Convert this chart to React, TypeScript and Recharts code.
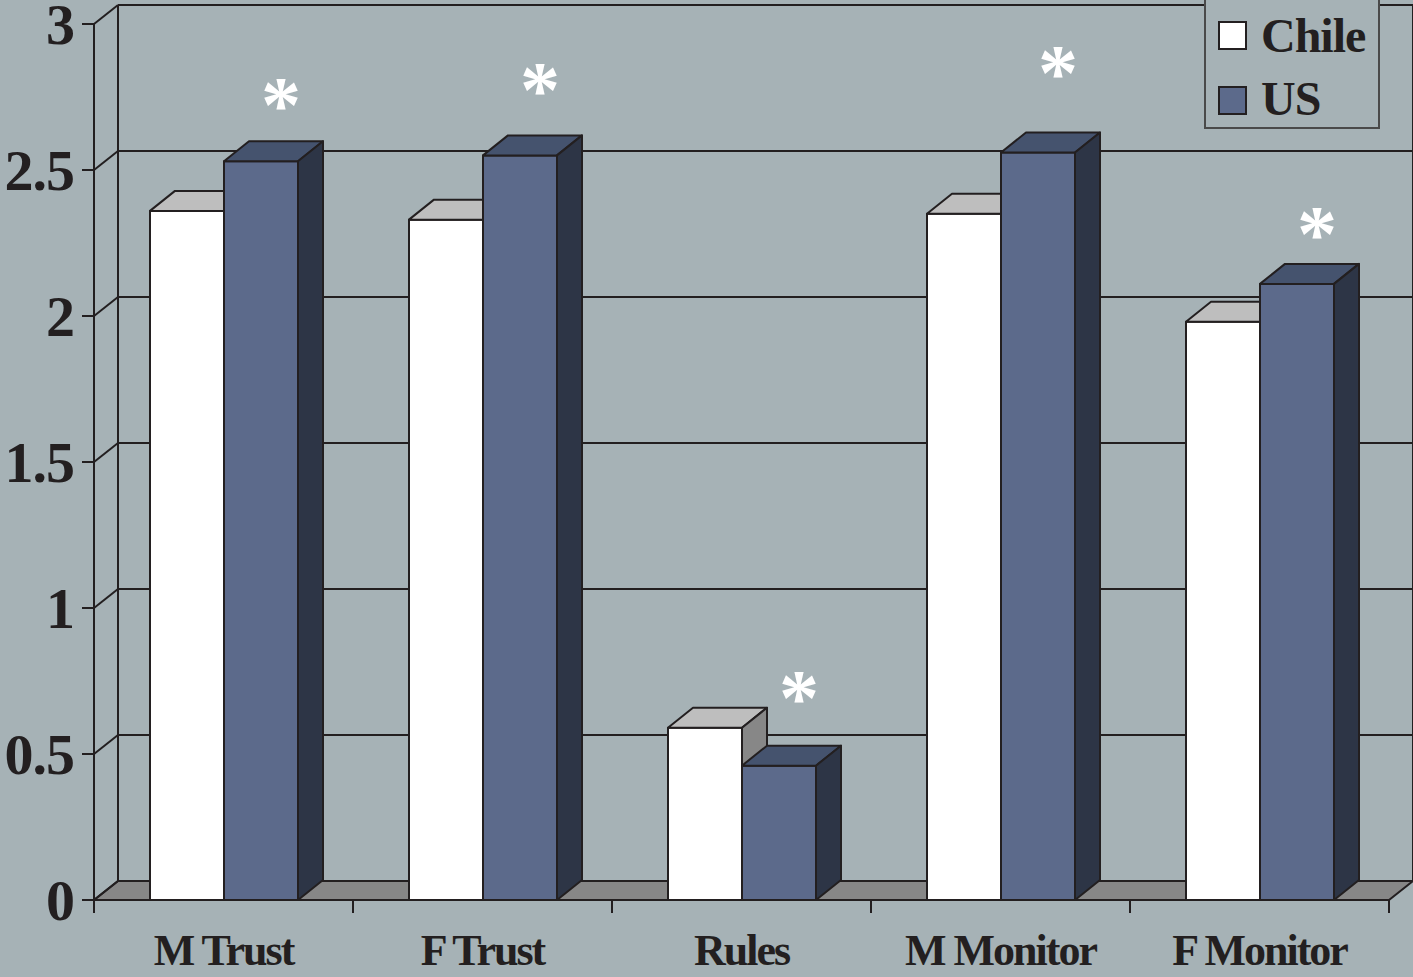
import React from "react";
import {
  BarChart,
  Bar,
  XAxis,
  YAxis,
  ReferenceLine,
  ReferenceArea,
} from "recharts";

// values (front face tops)
const categories = ["M Trust", "F Trust", "Rules", "M Monitor", "F Monitor"];
const chile = [2.36, 2.33, 0.59, 2.35, 1.98];
const us = [2.53, 2.55, 0.46, 2.56, 2.11];
// vertical position (in data units) of the significance asterisk above each US bar
const starAt = [2.76, 2.81, 0.73, 2.87, 2.32];
const yTicks = [0, 0.5, 1, 1.5, 2, 2.5, 3];

const data = categories.map((name, i) => ({
  name,
  chile: chile[i],
  us: us[i],
  star: starAt[i],
}));

const BG = "#A6B2B6";
const INK = "#231F20";
const FONT = '"Liberation Serif", "Times New Roman", serif';

// depth of the 3d walls and bars
const WALL_DX = 24;
const WALL_DY = -19;
const BAR_DX = 25;
const BAR_DY = -20;

const chileColors = { front: "#FFFFFF", top: "#BEBEBE", side: "#878787" };
const usColors = { front: "#5C6A8B", top: "#45536E", side: "#2D3546" };

function makeBarShape(c: { front: string; top: string; side: string }, key: string, withStar: boolean) {
  return (props: any) => {
    const { x, y, width, height, payload } = props;
    if (height == null || width == null) return <g />;
    const r = x + width;
    const b = y + height;
    const val = payload[key];
    let star = null;
    if (withStar && val > 0) {
      const perUnit = height / val;
      const sy = b - payload.star * perUnit;
      star = (
        <text
          x={x + width / 2 + 20}
          y={sy + 38}
          textAnchor="middle"
          fill="#FFFFFF"
          stroke="none"
          fontSize={80}
          fontFamily={FONT}
          fontWeight="bold"
        >
          *
        </text>
      );
    }
    return (
      <g>
        <g stroke={INK} strokeWidth={2} strokeLinejoin="round">
          <rect x={x} y={y} width={width} height={height} fill={c.front} />
          <polygon
            points={`${x},${y} ${x + BAR_DX},${y + BAR_DY} ${r + BAR_DX},${y + BAR_DY} ${r},${y}`}
            fill={c.top}
          />
          <polygon
            points={`${r},${y} ${r + BAR_DX},${y + BAR_DY} ${r + BAR_DX},${b + BAR_DY} ${r},${b}`}
            fill={c.side}
          />
        </g>
        {star}
      </g>
    );
  };
}

// floor, back wall edges and category boundary ticks
const WallShape = (props: any) => {
  const { x, y, width, height } = props;
  const b = y + height;
  const r = x + width;
  const n = categories.length;
  return (
    <g stroke={INK} strokeWidth={2}>
      <polygon
        points={`${x},${b} ${r},${b} ${r + WALL_DX},${b + WALL_DY} ${x + WALL_DX},${b + WALL_DY}`}
        fill="#878787"
      />
      <line x1={x + WALL_DX} y1={y + WALL_DY} x2={x + WALL_DX} y2={b + WALL_DY} />
      <line x1={r + WALL_DX} y1={y + WALL_DY} x2={r + WALL_DX} y2={b + WALL_DY} />
      {Array.from({ length: n + 1 }, (_, i) => {
        const tx = x + (i * width) / n;
        return <line key={i} x1={tx} y1={b} x2={tx} y2={b + 13} />;
      })}
    </g>
  );
};

// grid line on the back wall plus the diagonal on the left side wall
const GridShape = (props: any) => {
  const { x1, y1, x2 } = props;
  return (
    <g stroke={INK} strokeWidth={2} fill="none">
      <line x1={x1} y1={y1} x2={x1 + WALL_DX} y2={y1 + WALL_DY} />
      <line x1={x1 + WALL_DX} y1={y1 + WALL_DY} x2={x2 + WALL_DX} y2={y1 + WALL_DY} />
    </g>
  );
};

const XTick = (props: any) => {
  const { x, y, payload } = props;
  return (
    <text
      x={x}
      y={y + 57}
      textAnchor="middle"
      fill={INK}
      fontSize={44}
      fontFamily={FONT}
      fontWeight="bold"
      letterSpacing={-2}
    >
      {payload.value}
    </text>
  );
};

const YTick = (props: any) => {
  const { x, y, payload } = props;
  return (
    <text
      x={x}
      y={y + 20}
      textAnchor="end"
      fill={INK}
      fontSize={58}
      fontFamily={FONT}
      fontWeight="bold"
      letterSpacing={-1}
    >
      {String(payload.value)}
    </text>
  );
};

const Legend3D = () => (
  <svg
    width={180}
    height={132}
    style={{ position: "absolute", left: 1203, top: -2 }}
  >
    <rect x={2} y={1} width={174} height={129} fill={BG} stroke="#4A4A4A" strokeWidth={2} />
    <rect x={16} y={24} width={27} height={27} fill={chileColors.front} stroke={INK} strokeWidth={2} />
    <rect x={16} y={89} width={27} height={27} fill={usColors.front} stroke={INK} strokeWidth={2} />
    <text x={58} y={54} fill={INK} fontSize={48} fontFamily={FONT} fontWeight="bold" letterSpacing={-1}>
      Chile
    </text>
    <text x={58} y={117} fill={INK} fontSize={48} fontFamily={FONT} fontWeight="bold" letterSpacing={-1}>
      US
    </text>
  </svg>
);

export default function App() {
  return (
    <div
      style={{
        position: "absolute",
        left: 0,
        top: 0,
        width: 1413,
        height: 977,
        background: BG,
        overflow: "hidden",
      }}
    >
      <BarChart
        width={1413}
        height={977}
        data={data}
        margin={{ top: 24, right: 24, bottom: 17, left: 0 }}
        barGap={0}
        barSize={74}
      >
        <ReferenceArea
          y1={0}
          y2={3}
          ifOverflow="visible"
          shape={WallShape}
          zIndex={-60}
        />
        {yTicks.map((t) => (
          <ReferenceLine
            key={t}
            y={t}
            ifOverflow="visible"
            shape={GridShape}
            zIndex={-50}
          />
        ))}
        <XAxis
          dataKey="name"
          height={60}
          tickLine={false}
          axisLine={{ stroke: INK, strokeWidth: 2 }}
          tick={<XTick />}
          interval={0}
        />
        <YAxis
          width={94}
          domain={[0, 3]}
          ticks={yTicks}
          tickSize={12}
          tickMargin={8}
          axisLine={{ stroke: INK, strokeWidth: 2 }}
          tickLine={{ stroke: INK, strokeWidth: 2 }}
          tick={<YTick />}
        />
        <Bar
          dataKey="chile"
          name="Chile"
          isAnimationActive={false}
          shape={makeBarShape(chileColors, "chile", false)}
        />
        <Bar
          dataKey="us"
          name="US"
          isAnimationActive={false}
          shape={makeBarShape(usColors, "us", true)}
        />
      </BarChart>
      <Legend3D />
    </div>
  );
}
